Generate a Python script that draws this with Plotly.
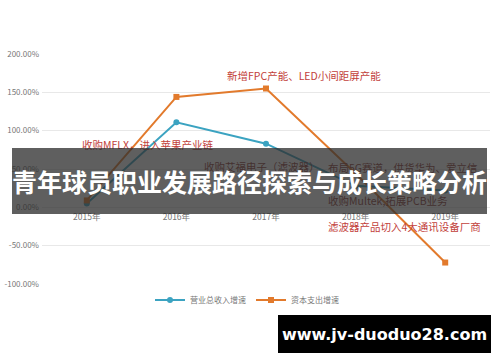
import plotly.graph_objects as go

# ---- data ----
years = ["2015年", "2016年", "2017年", "2018年", "2019年"]
revenue_growth = [5, 111, 83, 28, 22]        # 营业总收入增速 (%)
capex_growth = [9, 144, 155, 44, -72]        # 资本支出增速 (%)
series_names = ["营业总收入增速", "资本支出增速"]
y_ticks = [-100, -50, 0, 50, 100, 150, 200]

notes_top = [
    ("新增FPC产能、LED小间距屏产能", 304, 75),
    ("收购MFLX，进入苹果产业链", 148, 144),
]
notes_hidden = [
    ("收购艾福电子（滤波器）", 262, 166),
    ("布局5G赛道，供货华为、爱立信", 403, 167),
    ("收购Multek,拓展PCB业务", 388, 200),
]
notes_bottom = [
    ("滤波器产品切入4大通讯设备厂商", 404, 226),
]
title_text = "青年球员职业发展路径探索与成长策略分析"
watermark = "www.jv-duoduo28.com"

W, H = 500, 362
L, R, T, B = 42, 10, 54, 78
pw, ph = W - L - R, H - T - B


def px(x):
    return (x - L) / pw


def py(y):
    return (H - B - y) / ph


FONT = "Noto Sans CJK SC, Noto Sans, sans-serif"
BLUE = "#3ba3c1"
ORANGE = "#e27a2c"
RED = "#c2413b"

fig = go.Figure()
fig.add_trace(go.Scatter(x=years, y=revenue_growth, name=series_names[0],
                         mode="lines+markers",
                         line=dict(color=BLUE, width=2),
                         marker=dict(size=6, symbol="circle", color=BLUE)))
fig.add_trace(go.Scatter(x=years, y=capex_growth, name=series_names[1],
                         mode="lines+markers",
                         line=dict(color=ORANGE, width=2),
                         marker=dict(size=6, symbol="square", color=ORANGE)))

base = dict(xref="paper", yref="paper", showarrow=False,
            xanchor="center", yanchor="middle")
anns = []
for t, x, y in notes_top + notes_bottom:
    anns.append(dict(text=t, x=px(x), y=py(y),
                     font=dict(size=10.5, color=RED, family=FONT), **base))
for t, x, y in notes_hidden:
    anns.append(dict(text=t, x=px(x), y=py(y),
                     font=dict(size=10.5, color="#8e3b36", family=FONT), **base))

# banner
anns.append(dict(text="<b>" + title_text + "</b>", x=px(249.5), y=py(181),
                 width=475, height=66, borderpad=0, borderwidth=0,
                 bgcolor="rgba(45,45,45,0.76)",
                 font=dict(size=25, color="white", family=FONT), **base))
# watermark
anns.append(dict(text="<b>" + watermark + "</b>", x=px(384.5), y=py(334),
                 width=213, height=38, borderpad=0, borderwidth=0,
                 bgcolor="#000000",
                 font=dict(size=16, color="white", family="DejaVu Sans, sans-serif"),
                 **base))

fig.update_layout(
    width=W, height=H,
    margin=dict(l=L, r=R, t=T, b=B),
    paper_bgcolor="white", plot_bgcolor="white",
    font=dict(family=FONT, color="#777777", size=9),
    xaxis=dict(type="category", anchor="free", position=1 / 3,
               range=[-0.5, len(years) - 0.5],
               showgrid=False, showline=False, zeroline=False,
               ticks="", ticklabelstandoff=3, automargin=False,
               tickfont=dict(size=8.5, color="#777777")),
    yaxis=dict(range=[-100, 200], tickvals=y_ticks,
               ticktext=[f"{v:.2f}%" for v in y_ticks],
               showgrid=True, gridcolor="#e8e8e8", gridwidth=1,
               zeroline=False, showline=False, ticks="", automargin=False,
               ticklabelstandoff=2,
               tickfont=dict(size=8, color="#777777")),
    legend=dict(orientation="h", x=px(247), y=py(300), xanchor="center",
                yanchor="middle", font=dict(size=8, color="#777777"),
                itemwidth=30, bgcolor="rgba(0,0,0,0)"),
    annotations=anns,
    showlegend=True,
)

fig.write_html("out.html")
